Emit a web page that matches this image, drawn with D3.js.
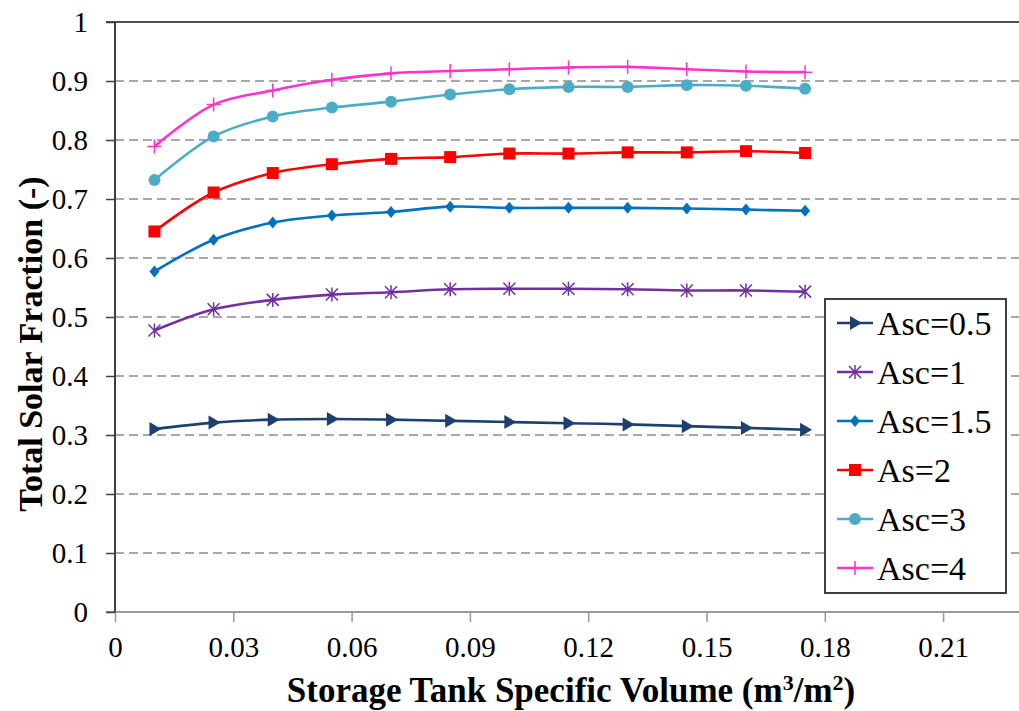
<!DOCTYPE html>
<html>
<head>
<meta charset="utf-8">
<script src="https://cdn.jsdelivr.net/npm/d3@7"></script>
<style>
  body { margin: 0; background: #fff; }
  svg { display: block; }
  svg text { font-family: "Liberation Serif", "Times New Roman", Tinos, "DejaVu Serif", serif; fill: #000; }
</style>
</head>
<body>
<div id="chart"></div>
<script>
// Storage tank specific volume (m3/m2)
const volumes = [0.01, 0.025, 0.04, 0.055, 0.07, 0.085, 0.1, 0.115, 0.13, 0.145, 0.16, 0.175];

// Total solar fraction for each collector area
const asc05 = [0.310, 0.321, 0.326, 0.327, 0.326, 0.324, 0.322, 0.320, 0.318, 0.315, 0.312, 0.309];
const asc1  = [0.477, 0.513, 0.529, 0.538, 0.542, 0.547, 0.548, 0.548, 0.547, 0.545, 0.545, 0.543];
const asc15 = [0.577, 0.631, 0.660, 0.672, 0.678, 0.687, 0.685, 0.685, 0.685, 0.684, 0.682, 0.680];
const as2   = [0.645, 0.711, 0.744, 0.759, 0.768, 0.771, 0.777, 0.777, 0.779, 0.779, 0.781, 0.778];
const asc3  = [0.732, 0.806, 0.840, 0.855, 0.865, 0.877, 0.886, 0.890, 0.890, 0.893, 0.892, 0.887];
const asc4  = [0.789, 0.860, 0.884, 0.902, 0.913, 0.917, 0.920, 0.923, 0.924, 0.920, 0.916, 0.915];

const seriesNames = ["Asc=0.5", "Asc=1", "Asc=1.5", "As=2", "Asc=3", "Asc=4"];
const seriesValues = [asc05, asc1, asc15, as2, asc3, asc4];
const seriesColors = ["#1F3F6E", "#7030A0", "#0070C0", "#FF0000", "#4BACC6", "#FF33CC"];
const seriesMarkers = ["triangle", "asterisk", "diamond", "square", "circle", "plus"];

const xTicks = [0, 0.03, 0.06, 0.09, 0.12, 0.15, 0.18, 0.21];
const yTicks = [0, 0.1, 0.2, 0.3, 0.4, 0.5, 0.6, 0.7, 0.8, 0.9, 1];

const width = 1019, height = 711;
const margin = { top: 22, left: 115, bottom: 99 };
const serif = '"Liberation Serif", "Times New Roman", Tinos, "DejaVu Serif", serif';

const svg = d3.select("#chart").append("svg")
    .attr("width", width)
    .attr("height", height);

const x = d3.scaleLinear().domain([0, 0.24]).range([margin.left, margin.left + 0.24 / 0.03 * 118.3]);
const y = d3.scaleLinear().domain([0, 1]).range([height - margin.bottom, margin.top]);
const right = width + 5;

// gridlines
svg.append("g")
  .selectAll("line")
  .data(yTicks.filter(d => d > 0 && d < 1))
  .enter().append("line")
    .attr("x1", x(0)).attr("x2", right)
    .attr("y1", d => y(d)).attr("y2", d => y(d))
    .attr("stroke", "#8c8c8c")
    .attr("stroke-width", 1.6)
    .attr("stroke-dasharray", "9,5");

// top border
svg.append("line")
    .attr("x1", x(0) - 9).attr("x2", right)
    .attr("y1", y(1)).attr("y2", y(1))
    .attr("stroke", "#505050").attr("stroke-width", 2);

// x axis
const xAxis = svg.append("g")
    .attr("transform", `translate(0,${y(0)})`)
    .call(d3.axisBottom(x).tickValues(xTicks).tickSize(10).tickPadding(14)
      .tickFormat(d => d === 0 ? "0" : d3.format(".2f")(d)));
xAxis.attr("font-family", null);
xAxis.select(".domain").remove();
xAxis.append("line")
    .attr("x1", x(0) - 9).attr("x2", right)
    .attr("stroke", "#999").attr("stroke-width", 2);
xAxis.selectAll(".tick line").attr("stroke", "#999").attr("stroke-width", 1.5);
xAxis.selectAll(".tick text")
    .style("font-family", serif)
    .style("font-size", "29px")
    .attr("fill", "#000");

// y axis
const yAxis = svg.append("g")
    .attr("transform", `translate(${x(0)},0)`)
    .call(d3.axisLeft(y).tickValues(yTicks).tickSize(9).tickPadding(18)
      .tickFormat(d => d === 0 ? "0" : d === 1 ? "1" : d3.format(".1f")(d)));
yAxis.attr("font-family", null);
yAxis.select(".domain").attr("stroke", "#404040").attr("stroke-width", 2)
    .attr("d", `M0,${y(1)}V${y(0)}`);
yAxis.selectAll(".tick line").attr("stroke", "#404040").attr("stroke-width", 1.5);
yAxis.selectAll(".tick text")
    .style("font-family", serif)
    .style("font-size", "29px")
    .attr("fill", "#000");

// axis titles
const xTitle = svg.append("text")
    .attr("x", 571)
    .attr("y", 702)
    .attr("text-anchor", "middle")
    .style("font-size", "35px")
    .style("font-weight", "bold");
xTitle.append("tspan").text("Storage Tank Specific Volume (m");
xTitle.append("tspan").attr("dy", -12).style("font-size", "22px").text("3");
xTitle.append("tspan").attr("dy", 12).text("/m");
xTitle.append("tspan").attr("dy", -12).style("font-size", "22px").text("2");
xTitle.append("tspan").attr("dy", 12).text(")");

svg.append("text")
    .attr("transform", "translate(42,344) rotate(-90)")
    .attr("text-anchor", "middle")
    .style("font-size", "34px")
    .style("font-weight", "bold")
    .text("Total Solar Fraction (-)");

// marker shapes
function drawMarker(g, type, color) {
  if (type === "triangle") {
    g.append("path").attr("d", "M-5,-7L7,0L-5,7Z").attr("fill", color);
  } else if (type === "diamond") {
    g.append("path").attr("d", "M0,-6L5,0L0,6L-5,0Z").attr("fill", color);
  } else if (type === "square") {
    g.append("rect").attr("x", -6).attr("y", -6).attr("width", 12).attr("height", 12).attr("fill", color);
  } else if (type === "circle") {
    g.append("circle").attr("r", 6).attr("fill", color);
  } else if (type === "plus") {
    g.append("path").attr("d", "M-7,0H7M0,-7V7").attr("stroke", color).attr("stroke-width", 1.5);
  } else if (type === "asterisk") {
    g.append("path").attr("d", "M-6,-6L6,6M-6,6L6,-6M0,-7V7").attr("stroke", color).attr("stroke-width", 1.5);
  }
}

const line = d3.line()
    .x((d, i) => x(volumes[i]))
    .y(d => y(d))
    .curve(d3.curveCatmullRom.alpha(0.5));

seriesValues.forEach((vals, k) => {
  const g = svg.append("g").attr("class", "series");
  g.append("path")
      .datum(vals)
      .attr("d", line)
      .attr("fill", "none")
      .attr("stroke", seriesColors[k])
      .attr("stroke-width", 2.6);
  g.selectAll("g.pt")
      .data(vals)
    .enter().append("g")
      .attr("class", "pt")
      .attr("transform", (d, i) => `translate(${x(volumes[i])},${y(d)})`)
      .each(function() { drawMarker(d3.select(this), seriesMarkers[k], seriesColors[k]); });
});

// legend
const legend = svg.append("g").attr("transform", "translate(825,299)");
legend.append("rect")
    .attr("width", 181).attr("height", 294)
    .attr("fill", "#fff").attr("stroke", "#404040").attr("stroke-width", 2);

const item = legend.selectAll(".legend")
    .data(seriesNames)
  .enter().append("g")
    .attr("class", "legend")
    .attr("transform", (d, i) => `translate(0,${24 + i * 49})`);

item.append("line")
    .attr("x1", 12).attr("x2", 48)
    .attr("stroke", (d, i) => seriesColors[i])
    .attr("stroke-width", 2.6);
item.each(function(d, i) {
  const m = d3.select(this).append("g").attr("transform", "translate(30,0)");
  drawMarker(m, seriesMarkers[i], seriesColors[i]);
});
item.append("text")
    .attr("x", 52)
    .attr("dy", "0.35em")
    .style("font-family", serif)
    .style("font-size", "34px")
    .text(d => d);
</script>
</body>
</html>
